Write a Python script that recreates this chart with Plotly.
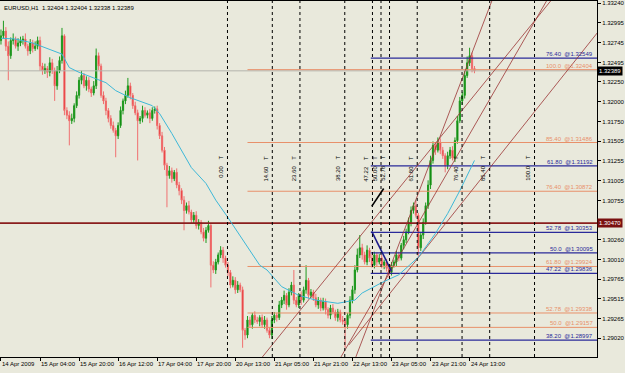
import plotly.graph_objects as go

# ---------------- data ----------------
title_text = "EURUSD,H1  1.32404 1.32404 1.32338 1.32389"
first_open = 1.3277
closes = [
    1.3283, 1.3289, 1.3270, 1.3258, 1.3277, 1.3279, 1.3270, 1.3274, 1.3277, 1.3279, 1.3270, 1.3264, 1.3274, 1.3267, 1.3270, 1.3277,
    1.3245, 1.3239, 1.3242, 1.3237, 1.3249, 1.3239, 1.3220, 1.3239, 1.3252, 1.3283, 1.3189, 1.3183, 1.3176, 1.3179, 1.3195, 1.3208,
    1.3227, 1.3233, 1.3220, 1.3227, 1.3216, 1.3211, 1.3220, 1.3258, 1.3245, 1.3208, 1.3201, 1.3189, 1.3179, 1.3170, 1.3164, 1.3157,
    1.3170, 1.3189, 1.3201, 1.3208, 1.3220, 1.3208, 1.3195, 1.3186, 1.3176, 1.3179, 1.3189, 1.3183, 1.3186, 1.3179, 1.3189, 1.3191,
    1.3170, 1.3157, 1.3139, 1.3120, 1.3107, 1.3113, 1.3103, 1.3111, 1.3095, 1.3088, 1.3076, 1.3063, 1.3069, 1.3061, 1.3051, 1.3057,
    1.3044, 1.3048, 1.3036, 1.3028, 1.3038, 1.3044, 1.2994, 1.2988, 1.2998, 1.3007, 1.3013, 1.3003, 1.2994, 1.2985, 1.2969, 1.2975,
    1.2963, 1.2969, 1.2963, 1.2912, 1.2906, 1.2925, 1.2919, 1.2931, 1.2925, 1.2923, 1.2928, 1.2919, 1.2925, 1.2912, 1.2906, 1.2925,
    1.2931, 1.2928, 1.2944, 1.2950, 1.2956, 1.2944, 1.2960, 1.2969, 1.2950, 1.2944, 1.2956, 1.2950, 1.2963, 1.2975, 1.2956, 1.2960,
    1.2953, 1.2944, 1.2950, 1.2940, 1.2948, 1.2938, 1.2931, 1.2940, 1.2935, 1.2928, 1.2935, 1.2925, 1.2923, 1.2919, 1.2931, 1.2950,
    1.2963, 1.2988, 1.3007, 1.3016, 1.3007, 1.2998, 1.3013, 1.3003, 1.2994, 1.3007, 1.2998, 1.3003, 1.2994, 1.2998, 1.2990, 1.2985,
    1.2994, 1.2998, 1.3007, 1.3003, 1.3019, 1.3026, 1.3036, 1.3048, 1.3063, 1.3069, 1.3057, 1.3016, 1.3032, 1.3048, 1.3069, 1.3095,
    1.3126, 1.3145, 1.3139, 1.3149, 1.3139, 1.3132, 1.3120, 1.3132, 1.3139, 1.3129, 1.3151, 1.3176, 1.3201, 1.3208, 1.3233, 1.3249,
    1.3258, 1.3242, 1.32389,
]
upper_wick_pips = [
    8, 13, 5, 6, 4, 7, 3, 6, 5, 4, 7, 3, 5, 4, 6, 5,
    5, 4, 6, 3, 7, 5, 4, 6, 5, 10, 2, 4, 5, 6, 3, 5,
    4, 6, 3, 5, 4, 3, 6, 9, 4, 3, 5, 4, 3, 4, 5, 3,
    4, 5, 3, 6, 10, 4, 3, 5, 4, 3, 6, 4, 3, 5, 4, 3,
    4, 3, 5, 4, 3, 6, 4, 3, 5, 4, 3, 5, 4, 6, 3, 4,
    5, 4, 3, 5, 4, 6, 3, 5, 4, 3, 5, 4, 3, 4, 3, 5,
    4, 5, 3, 4, 3, 5, 4, 3, 5, 4, 3, 4, 5, 3, 4, 5,
    4, 3, 5, 4, 6, 3, 5, 4, 19, 4, 3, 5, 4, 19, 3, 4,
    3, 5, 4, 3, 5, 4, 3, 4, 5, 3, 4, 3, 5, 4, 3, 5,
    5, 6, 8, 16, 5, 4, 6, 3, 5, 4, 3, 5, 4, 3, 4, 3,
    4, 3, 5, 4, 3, 5, 4, 6, 5, 4, 6, 3, 4, 5, 4, 6,
    6, 5, 4, 6, 5, 4, 3, 5, 4, 5, 4, 6, 5, 4, 6, 8,
    10, 4, 3,
]
lower_wick_pips = [
    5, 4, 6, 31, 4, 5, 3, 6, 4, 5, 3, 6, 4, 5, 3, 4,
    6, 5, 4, 7, 5, 4, 19, 5, 3, 4, 6, 5, 31, 4, 5, 3,
    4, 5, 3, 6, 4, 5, 3, 4, 5, 3, 4, 6, 5, 4, 3, 27,
    4, 3, 5, 4, 3, 5, 4, 3, 50, 4, 5, 3, 4, 6, 3, 4,
    5, 4, 3, 6, 40, 4, 5, 3, 4, 6, 5, 25, 4, 3, 5, 4,
    4, 5, 3, 4, 6, 3, 28, 4, 5, 3, 4, 6, 3, 5, 4, 3,
    5, 4, 3, 22, 6, 4, 3, 5, 4, 3, 6, 4, 5, 3, 4, 5,
    4, 5, 3, 4, 5, 6, 3, 4, 5, 3, 4, 6, 3, 5, 4, 3,
    4, 3, 5, 4, 3, 6, 4, 5, 3, 4, 5, 3, 4, 29, 5, 4,
    4, 5, 3, 4, 6, 3, 4, 5, 3, 4, 5, 3, 4, 5, 4, 7,
    4, 3, 5, 4, 3, 5, 4, 3, 5, 4, 3, 12, 4, 5, 3, 4,
    5, 4, 6, 3, 5, 4, 9, 5, 4, 3, 5, 4, 3, 5, 4, 3,
    4, 5, 3,
]

# moving average (read at selected bars)
ma_bars = [0, 6, 13, 21, 25, 28, 32, 38, 43, 47, 53, 62, 65, 70, 78, 84, 88, 93, 100, 106,
           109, 115, 122, 129, 138, 145, 148, 156, 163, 171, 178, 183, 188, 194]
ma_vals = [1.3280, 1.3279, 1.3274, 1.3264, 1.3260, 1.3243, 1.3237, 1.3230, 1.3224, 1.3214,
           1.3205, 1.3195, 1.3185, 1.3160, 1.3117, 1.3097, 1.3076, 1.3054, 1.3022, 1.2994,
           1.2988, 1.2967, 1.2956, 1.2950, 1.2946, 1.2950, 1.2959, 1.2972, 1.2982, 1.3004,
           1.3034, 1.3059, 1.3088, 1.3126]

# date axis labels
date_tick_bars = [0, 16, 32, 48, 64, 80, 96, 112, 128, 144, 160, 176, 192]
date_tick_text = ["14 Apr 2009", "15 Apr 04:00", "15 Apr 20:00", "16 Apr 12:00", "17 Apr 04:00",
                  "17 Apr 20:00", "20 Apr 13:00", "21 Apr 05:00", "21 Apr 21:00", "22 Apr 13:00",
                  "23 Apr 05:00", "23 Apr 21:00", "24 Apr 13:00"]
# price axis labels
price_ticks = [1.33240, 1.32995, 1.32745, 1.32495, 1.32250, 1.32000, 1.31750, 1.31505, 1.31255,
               1.31005, 1.30755, 1.30260, 1.30010, 1.29765, 1.29515, 1.29265, 1.29020, 1.28770]

bid_price = 1.32389
level_price = 1.30470

# Fibonacci retracement (salmon) and (blue)
fib_a_start = 101
fib_a_levels = ["100.0", "85.40", "76.40", "61.80", "52.78", "50.0"]
fib_a_prices = [1.32404, 1.31486, 1.30872, 1.29924, 1.29338, 1.29157]
fib_b_start = 151.5
fib_b_levels = ["76.40", "61.80", "52.78", "50.0", "47.22", "38.20"]
fib_b_prices = [1.32549, 1.31192, 1.30353, 1.30095, 1.29836, 1.28997]

# Fibonacci time zones
fib_time_start = 92.8
fib_time_end = 218.6
fib_time_ratios = [0, 14.6, 23.6, 38.2, 47.22, 50.0, 52.78, 61.8, 76.4, 85.4, 100.0]
fib_time_labels = ["0.00", "14.60", "23.60", "38.20", "47.22", "50.00", "52.78", "61.80", "76.40", "85.40", "100.0"]

# trend lines: (bar0, price0, bar1, price1)
trend_lines = [
    (107.1, 1.28784, 225.2, 1.33269),
    (142.5, 1.28934, 244.3, 1.32867),
    (145.4, 1.28784, 201.1, 1.33269),
    (139.3, 1.28784, 223.5, 1.33269),
]
blue_segment = (151.9, 1.30367, 160.0, 1.29864)
black_segment = (151.9, 1.30681, 156.8, 1.30907)

# ---------------- styles ----------------
BG = "#E9E9DC"
SALMON = "#E8906A"
NAVY = "#2A2A9A"
BROWN = "#9A3434"
MA_COLOR = "#3EB8D8"
FONT = "Liberation Sans"

n = len(closes)
bars = list(range(n))
opens = [first_open] + closes[:-1]
highs = [max(o, c) + u * 0.0001 for o, c, u in zip(opens, closes, upper_wick_pips)]
lows = [min(o, c) - w * 0.0001 for o, c, w in zip(opens, closes, lower_wick_pips)]

x_min, x_max = -0.4, 244.2
y_min, y_max = 1.287835, 1.33269

fig = go.Figure()

# horizontal lines spanning chart
fig.add_trace(go.Scatter(x=[x_min, x_max], y=[bid_price, bid_price], mode="lines",
                         line=dict(color="#B4B4AC", width=1), hoverinfo="skip"))
fig.add_trace(go.Scatter(x=[x_min, x_max], y=[level_price, level_price], mode="lines",
                         line=dict(color="#8A1E1E", width=1.6), hoverinfo="skip"))

# fib retracement lines
for p in fib_a_prices:
    fig.add_trace(go.Scatter(x=[fib_a_start, x_max], y=[p, p], mode="lines",
                             line=dict(color=SALMON, width=1), hoverinfo="skip"))
for p in fib_b_prices:
    fig.add_trace(go.Scatter(x=[fib_b_start, x_max], y=[p, p], mode="lines",
                             line=dict(color=NAVY, width=1.2), hoverinfo="skip"))

# trend lines
for (b0, p0, b1, p1) in trend_lines:
    fig.add_trace(go.Scatter(x=[b0, b1], y=[p0, p1], mode="lines",
                             line=dict(color=BROWN, width=0.8), hoverinfo="skip"))
fig.add_trace(go.Scatter(x=[blue_segment[0], blue_segment[2]], y=[blue_segment[1], blue_segment[3]],
                         mode="lines", line=dict(color="#1C1C8C", width=1.6), hoverinfo="skip"))
fig.add_trace(go.Scatter(x=[black_segment[0], black_segment[2]], y=[black_segment[1], black_segment[3]],
                         mode="lines", line=dict(color="#000000", width=1.6), hoverinfo="skip"))

# candles
fig.add_trace(go.Candlestick(
    x=bars, open=opens, high=highs, low=lows, close=closes,
    increasing=dict(line=dict(color="#1F9A1F", width=1), fillcolor="#007A00"),
    decreasing=dict(line=dict(color="#F07070", width=1), fillcolor="#E00000"),
    whiskerwidth=0, hoverinfo="skip"))

# moving average
fig.add_trace(go.Scatter(x=ma_bars, y=ma_vals, mode="lines",
                         line=dict(color=MA_COLOR, width=1), hoverinfo="skip"))

shapes = []
annotations = []
# fib time zones
for r, lab in zip(fib_time_ratios, fib_time_labels):
    bx = fib_time_start + r / 100.0 * (fib_time_end - fib_time_start)
    shapes.append(dict(type="line", xref="x", yref="paper", x0=bx, x1=bx, y0=0, y1=1,
                       line=dict(color="#000000", width=1, dash="dot"), layer="above"))
    annotations.append(dict(x=bx, y=1.3135, xref="x", yref="y", text=lab + "    T",
                            textangle=-90, showarrow=False, xanchor="right", yanchor="top",
                            xshift=-1, font=dict(family=FONT, size=6, color="#000000")))

# fib labels
for lab, p in zip(fib_a_levels, fib_a_prices):
    annotations.append(dict(x=x_max, y=p, xref="x", yref="y", text=f"{lab}  @{p:.5f}",
                            showarrow=False, xanchor="right", yanchor="bottom", xshift=-2,
                            yshift=-1, font=dict(family=FONT, size=6, color=SALMON)))
for lab, p in zip(fib_b_levels, fib_b_prices):
    annotations.append(dict(x=x_max, y=p, xref="x", yref="y", text=f"{lab}  @{p:.5f}",
                            showarrow=False, xanchor="right", yanchor="bottom", xshift=-2,
                            yshift=-1, font=dict(family=FONT, size=6, color=NAVY)))

# date labels (left aligned at ticks)
for b, t in zip(date_tick_bars, date_tick_text):
    annotations.append(dict(x=b, y=0, xref="x", yref="paper", text=t, showarrow=False,
                            xanchor="left", yanchor="top", xshift=-1, yshift=-2,
                            font=dict(family=FONT, size=6, color="#000000")))

# price boxes
annotations.append(dict(x=1, y=bid_price, xref="paper", yref="y", text="1.32389", showarrow=False,
                        xanchor="left", yanchor="middle", xshift=0, bgcolor="#000000",
                        borderpad=1, font=dict(family=FONT, size=6, color="#FFFFFF")))
annotations.append(dict(x=1, y=level_price, xref="paper", yref="y", text="1.30470", showarrow=False,
                        xanchor="left", yanchor="middle", xshift=0, bgcolor="#7A1010",
                        borderpad=1, font=dict(family=FONT, size=6, color="#FFFFFF")))
# title
annotations.append(dict(x=0, y=1, xref="paper", yref="paper", text=title_text, showarrow=False,
                        xanchor="left", yanchor="top", xshift=2, yshift=-2,
                        font=dict(family=FONT, size=6, color="#000000")))

fig.update_layout(
    width=625, height=373,
    margin=dict(l=0, r=25, t=0, b=16),
    paper_bgcolor=BG, plot_bgcolor=BG,
    showlegend=False,
    shapes=shapes, annotations=annotations,
    xaxis=dict(range=[x_min, x_max], rangeslider=dict(visible=False), showgrid=False,
               zeroline=False, showline=True, linecolor="#000000", linewidth=1, mirror=True,
               tickvals=date_tick_bars, ticktext=[""] * len(date_tick_bars), ticks="outside",
               ticklen=3, tickcolor="#000000"),
    yaxis=dict(range=[y_min, y_max], side="right", showgrid=False, zeroline=False,
               showline=True, linecolor="#000000", linewidth=1,
               tickvals=price_ticks, ticktext=[f"{v:.5f}" for v in price_ticks],
               ticks="outside", ticklen=3, tickcolor="#000000",
               tickfont=dict(family=FONT, size=6, color="#000000")),
)

fig.write_html("out.html")
